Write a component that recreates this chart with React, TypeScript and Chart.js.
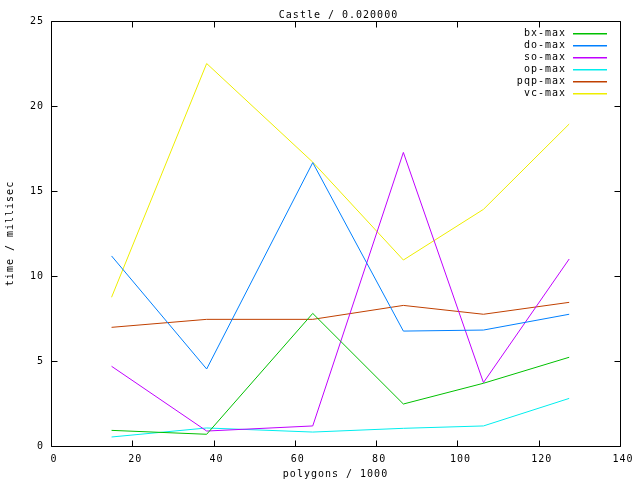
import React, { useEffect, useRef } from "react";
import { Chart, registerables } from "chart.js";

Chart.register(...registerables);

const chartTitle = "Castle / 0.020000";
const xTitle = "polygons / 1000";
const yTitle = "time / millisec";

const polygons = [14.9, 38.3, 64.4, 86.7, 106.4, 127.5];
const bxMax = [0.92, 0.69, 7.8, 2.47, 3.69, 5.22];
const doMax = [11.18, 4.53, 16.67, 6.76, 6.82, 7.75];
const soMax = [4.69, 0.88, 1.18, 17.27, 3.73, 11.0];
const opMax = [0.53, 1.06, 0.82, 1.04, 1.18, 2.8];
const pqpMax = [6.98, 7.45, 7.45, 8.27, 7.75, 8.45];
const vcMax = [8.75, 22.5, 16.7, 10.94, 13.92, 18.94];

const seriesNames = ["bx-max", "do-max", "so-max", "op-max", "pqp-max", "vc-max"];
const seriesValues = [bxMax, doMax, soMax, opMax, pqpMax, vcMax];
const seriesColors = ["#00c000", "#0080ff", "#c000ff", "#00eeee", "#c04000", "#eeee00"];

const xMin = 0, xMax = 140, xStep = 20;
const yMin = 0, yMax = 25, yStep = 5;

const FONT = "'DejaVu Sans Mono', 'Liberation Mono', monospace";

const spacingPlugin = {
  id: "gnuSpacing",
  beforeDraw(chart: any) {
    chart.ctx.letterSpacing = "1px";
  },
};

const framePlugin = {
  id: "gnuFrame",
  afterDatasetsDraw(chart: any) {
    const { ctx, chartArea: a, scales } = chart;
    const xs = scales.x, ys = scales.y;
    ctx.save();
    ctx.letterSpacing = "1px";
    ctx.strokeStyle = "#000";
    ctx.lineWidth = 1;
    ctx.beginPath();
    const L = Math.round(a.left) + 0.5, R = Math.round(a.right) + 0.5;
    const T = Math.round(a.top) + 0.5, B = Math.round(a.bottom) + 0.5;
    ctx.rect(L, T, R - L, B - T);
    const tl = 6;
    xs.ticks.forEach((t: any) => {
      const px = Math.round(xs.getPixelForValue(t.value)) + 0.5;
      ctx.moveTo(px, B); ctx.lineTo(px, B - tl);
      ctx.moveTo(px, T); ctx.lineTo(px, T + tl);
    });
    ys.ticks.forEach((t: any) => {
      const py = Math.round(ys.getPixelForValue(t.value)) + 0.5;
      ctx.moveTo(L, py); ctx.lineTo(L + tl, py);
      ctx.moveTo(R, py); ctx.lineTo(R - tl, py);
    });
    ctx.stroke();

    // title
    ctx.fillStyle = "#000";
    ctx.font = "10px " + FONT;
    ctx.textAlign = "center";
    ctx.textBaseline = "middle";
    ctx.fillText(chartTitle, (a.left + a.right) / 2 + 3, 15);

    // legend (gnuplot style: text then sample line)
    const textRight = 566;
    const lineL = 573, lineR = 607;
    const top = 33;
    seriesNames.forEach((name, i) => {
      const y = top + i * 12;
      ctx.textAlign = "right";
      ctx.fillStyle = "#000";
      ctx.fillText(name, textRight, y);
      ctx.fillStyle = seriesColors[i];
      ctx.fillRect(lineL, Math.round(y), lineR - lineL, 1.5);
    });
    ctx.restore();
  },
};

export default function App() {
  const ref = useRef<HTMLCanvasElement>(null);
  useEffect(() => {
    if (!ref.current) return;
    const datasets = seriesNames.map((name, i) => ({
      label: name,
      data: polygons.map((x, j) => ({ x, y: seriesValues[i][j] })),
      borderColor: seriesColors[i],
      backgroundColor: seriesColors[i],
      borderWidth: 1,
      pointRadius: 0,
      fill: false,
      tension: 0,
    }));
    const chart = new Chart(ref.current, {
      type: "line",
      data: { datasets },
      options: {
        animation: false,
        responsive: false,
        maintainAspectRatio: false,
        layout: { padding: { top: 21, right: 20, left: 0, bottom: 0 } },
        plugins: {
          legend: { display: false },
          title: { display: false },
          tooltip: { enabled: false },
        },
        scales: {
          x: {
            type: "linear",
            min: xMin,
            max: xMax,
            grid: { display: false, drawTicks: false },
            border: { display: false },
            ticks: {
              stepSize: xStep,
              padding: 7,
              labelOffset: 3,
              color: "#000",
              maxRotation: 0,
              font: { family: FONT, size: 10 },
            },
            title: {
              display: true,
              text: xTitle,
              color: "#000",
              font: { family: FONT, size: 10 },
              padding: { top: 4, bottom: 0 },
            },
            afterFit: (s: any) => { s.height = 34; },
          },
          y: {
            type: "linear",
            min: yMin,
            max: yMax,
            grid: { display: false, drawTicks: false },
            border: { display: false },
            ticks: {
              stepSize: yStep,
              padding: 7,
              color: "#000",
              font: { family: FONT, size: 10 },
            },
            title: {
              display: true,
              text: yTitle,
              color: "#000",
              font: { family: FONT, size: 10 },
              padding: { top: 4, bottom: 0 },
            },
            afterFit: (s: any) => { s.width = 51; },
          },
        },
      },
      plugins: [spacingPlugin, framePlugin],
    });
    return () => chart.destroy();
  }, []);
  return (
    <div style={{ position: "absolute", left: 0, top: 0, width: 640, height: 480, background: "#fff" }}>
      <canvas ref={ref} width={640} height={480} style={{ width: 640, height: 480, display: "block" }} />
    </div>
  );
}
